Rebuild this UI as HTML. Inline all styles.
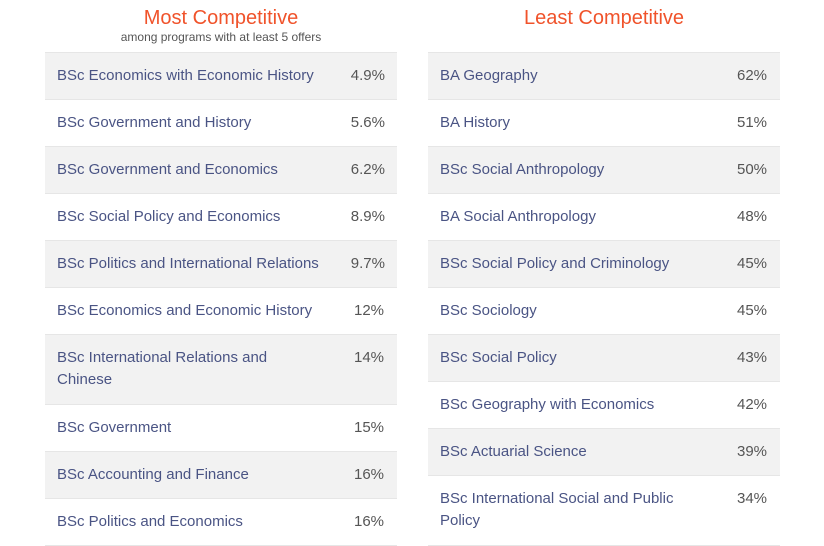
<!DOCTYPE html>
<html><head><meta charset="utf-8"><style>
body{margin:0;width:824px;height:545px;background:#fff;font-family:"Liberation Sans",sans-serif;overflow:hidden;position:relative}
.col{position:absolute;top:0;width:352px}
.title{text-align:center;color:#f0532b;font-size:20px;line-height:22px;position:absolute;width:100%;top:7px}
.sub{text-align:center;color:#555;font-size:12px;position:absolute;width:100%;top:30px}
.tbl{position:absolute;top:52px;width:352px;border-top:1px solid #e6e6e6}
.row{display:flex;padding:12px 12px 12px 12px;line-height:22px;font-size:15px;color:#4a5484;border-bottom:1px solid #e6e6e6;box-sizing:border-box;min-height:47px}
.row:nth-child(odd){background:#f2f2f2}
.name{width:297px;padding-right:10px;box-sizing:border-box}
.pct{color:#555}
</style></head><body>
<div class="col" style="left:45px">
<div class="title">Most Competitive</div>
<div class="sub">among programs with at least 5 offers</div>
<div class="tbl">
<div class="row"><span class="name">BSc Economics with Economic History</span><span class="pct">4.9%</span></div>
<div class="row"><span class="name">BSc Government and History</span><span class="pct">5.6%</span></div>
<div class="row"><span class="name">BSc Government and Economics</span><span class="pct">6.2%</span></div>
<div class="row"><span class="name">BSc Social Policy and Economics</span><span class="pct">8.9%</span></div>
<div class="row"><span class="name">BSc Politics and International Relations</span><span class="pct">9.7%</span></div>
<div class="row"><span class="name">BSc Economics and Economic History</span><span class="pct">12%</span></div>
<div class="row" style="min-height:70px"><span class="name">BSc International Relations and<br>Chinese</span><span class="pct">14%</span></div>
<div class="row"><span class="name">BSc Government</span><span class="pct">15%</span></div>
<div class="row"><span class="name">BSc Accounting and Finance</span><span class="pct">16%</span></div>
<div class="row"><span class="name">BSc Politics and Economics</span><span class="pct">16%</span></div>
</div></div>
<div class="col" style="left:428px">
<div class="title">Least Competitive</div>
<div class="tbl">
<div class="row"><span class="name">BA Geography</span><span class="pct">62%</span></div>
<div class="row"><span class="name">BA History</span><span class="pct">51%</span></div>
<div class="row"><span class="name">BSc Social Anthropology</span><span class="pct">50%</span></div>
<div class="row"><span class="name">BA Social Anthropology</span><span class="pct">48%</span></div>
<div class="row"><span class="name">BSc Social Policy and Criminology</span><span class="pct">45%</span></div>
<div class="row"><span class="name">BSc Sociology</span><span class="pct">45%</span></div>
<div class="row"><span class="name">BSc Social Policy</span><span class="pct">43%</span></div>
<div class="row"><span class="name">BSc Geography with Economics</span><span class="pct">42%</span></div>
<div class="row"><span class="name">BSc Actuarial Science</span><span class="pct">39%</span></div>
<div class="row" style="min-height:70px"><span class="name">BSc International Social and Public<br>Policy</span><span class="pct">34%</span></div>
</div></div>
</body></html>
